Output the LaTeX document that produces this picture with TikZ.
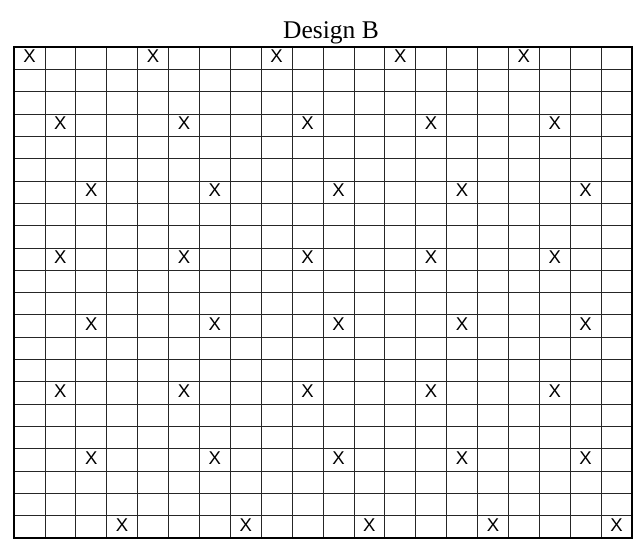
\documentclass[tikz,border=0pt]{standalone}
\usepackage{fontspec}
\setmainfont{Liberation Serif}
\newfontfamily\marksans{Liberation Sans}
\usetikzlibrary{positioning}

\begin{document}
\begin{tikzpicture}[
x=1pt, y=-1pt,
every node/.style={inner sep=0pt},
cell/.style={line width=0.7pt, black!85},
border/.style={line width=1.8pt},
xmark/.style={font=\marksans\fontsize{18.5}{18.5}\selectfont},
heading/.style={font=\fontsize{25.5}{25.5}\selectfont, anchor=base}
]
\def\cw{30.9}
\def\rh{22.318}

\useasboundingbox (0,0) rectangle (637,540);

% TITULO
\node (title) [heading] at (331,38.5) {Design B};

% REJILLA
\foreach \c in {1,...,19}
  \draw[cell] ({14+\c*\cw},47) -- ({14+\c*\cw},538);
\foreach \r in {1,...,21}
  \draw[cell] (14,{47+\r*\rh}) -- (632,{47+\r*\rh});
\draw[border] (14,47) rectangle (632,538);

% MARCAS X (fila/desplazamiento)
\foreach \r/\o in {0/0,3/1,6/2,9/1,12/2,15/1,18/2,21/3}
  \foreach \k in {0,...,4}
    \node (x-\r-\k) [xmark] at ({14+(4*\k+\o+0.5)*\cw},{47+(\r+0.42)*\rh}) {X};

\end{tikzpicture}
\end{document}
